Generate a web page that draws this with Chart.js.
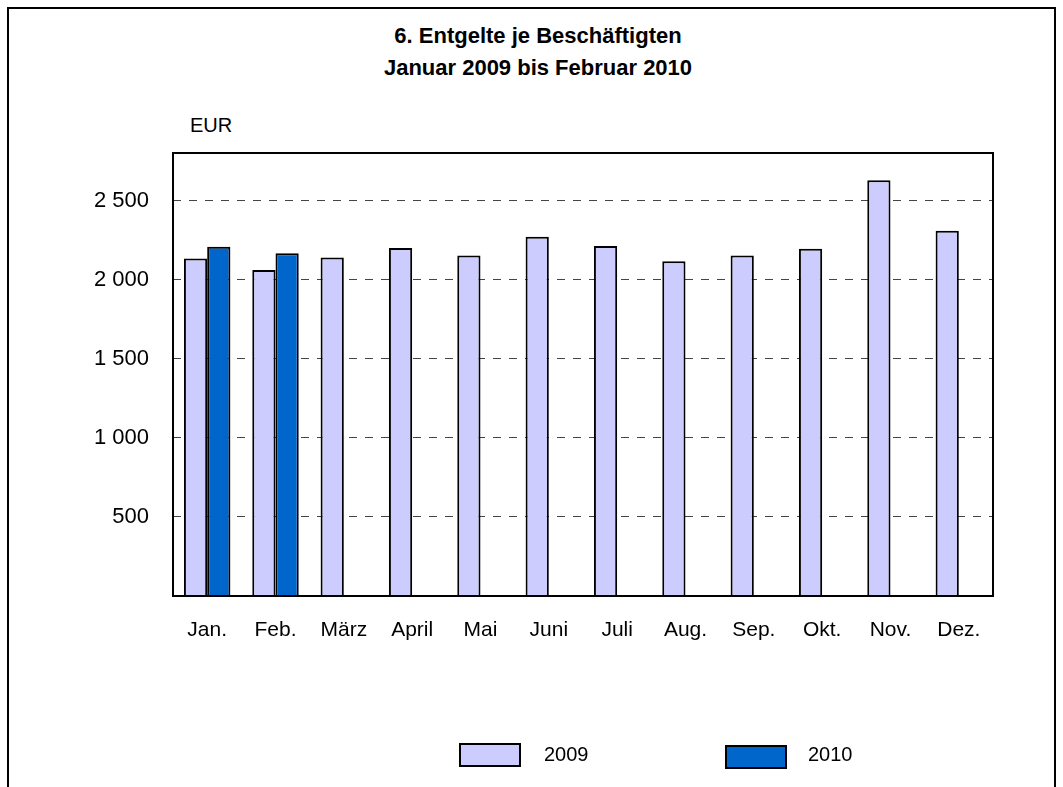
<!DOCTYPE html>
<html>
<head>
<meta charset="utf-8">
<script src="https://cdn.jsdelivr.net/npm/chart.js@4"></script>
<style>
    body { margin: 0; background: #fff; font-family: "Liberation Sans", Arial, sans-serif; }
    #wrap { position: relative; width: 1063px; height: 787px; overflow: hidden; }
    #frame { position: absolute; left: 7px; top: 7px; width: 1049px; height: 800px; border: 2px solid #000; box-sizing: border-box; }
    #titel { position: absolute; left: 0; width: 1076px; top: 20px; text-align: center; font-weight: bold; font-size: 22px; line-height: 32px; color: #000; }
    #einheit { position: absolute; left: 190px; top: 115px; font-size: 20px; line-height: 20px; color: #000; }
    .leg-box { position: absolute; width: 62px; height: 24px; border: 2px solid #000; box-sizing: border-box; }
    .leg-txt { position: absolute; font-size: 20px; line-height: 20px; color: #000; }
    canvas { position: absolute; left: 0; top: 0; }
</style>
</head>
<body>
<div id="wrap">
    <div id="frame"></div>
    <div id="titel">6. Entgelte je Beschäftigten<br>Januar 2009 bis Februar 2010</div>
    <div id="einheit">EUR</div>
    <canvas id="myChart" width="1063" height="787"></canvas>
    <div class="leg-box" style="left:459px; top:743px; background:#CCCCFF;"></div>
    <div class="leg-txt" style="left:544px; top:744px;">2009</div>
    <div class="leg-box" style="left:725px; top:745px; background:#0066CC;"></div>
    <div class="leg-txt" style="left:808px; top:744px;">2010</div>
</div>
<script>
// Monate (Kategorien)
const monate = ['Jan.', 'Feb.', 'März', 'April', 'Mai', 'Juni', 'Juli', 'Aug.', 'Sep.', 'Okt.', 'Nov.', 'Dez.'];
// Entgelte je Beschäftigten in EUR
const werte2009 = [2133, 2061, 2140, 2199, 2152, 2271, 2212, 2116, 2152, 2195, 2627, 2309];
const werte2010 = [2207, 2167, null, null, null, null, null, null, null, null, null, null];
// Achse
const yMax = 2800;
const yTicks = [500, 1000, 1500, 2000, 2500];

// Rahmen um die Zeichenfläche
const rahmenPlugin = {
    id: 'rahmen',
    afterDatasetsDraw(chart) {
        const a = chart.chartArea;
        const ctx = chart.ctx;
        ctx.save();
        ctx.strokeStyle = '#000';
        ctx.lineWidth = 2;
        ctx.strokeRect(a.left, a.top, a.right - a.left, a.bottom - a.top);
        ctx.restore();
    }
};

function tausender(v) {
    return String(v).replace(/\B(?=(\d{3})+(?!\d))/g, ' ');
}

const ctx = document.getElementById('myChart').getContext('2d');
const myChart = new Chart(ctx, {
    type: 'bar',
    data: {
        labels: monate,
        datasets: [{
            label: '2009',
            data: werte2009,
            backgroundColor: '#CCCCFF',
            borderColor: '#000',
            borderWidth: 2
        }, {
            label: '2010',
            data: werte2010,
            backgroundColor: '#0066CC',
            borderColor: '#000',
            borderWidth: 2
        }]
    },
    options: {
        responsive: false,
        animation: false,
        layout: {
            padding: { left: 0, right: 70, top: 153, bottom: 131 }
        },
        datasets: {
            bar: { categoryPercentage: 0.68, barPercentage: 1.0 }
        },
        plugins: {
            legend: { display: false },
            title: { display: false },
            tooltip: { enabled: false }
        },
        scales: {
            x: {
                grid: { display: false, drawTicks: false },
                border: { display: false },
                ticks: {
                    color: '#000',
                    padding: 22,
                    font: { family: 'Liberation Sans', size: 21 }
                },
                afterFit(scale) { scale.height = 60; }
            },
            y: {
                min: 0,
                max: yMax,
                grid: {
                    drawTicks: false,
                    lineWidth: 1,
                    color: '#444'
                },
                border: { display: false, dash: [8, 8] },
                afterBuildTicks(scale) {
                    scale.ticks = yTicks.map(v => ({ value: v }));
                },
                ticks: {
                    color: '#000',
                    padding: 24,
                    font: { family: 'Liberation Sans', size: 22 },
                    callback(v) {
                        return tausender(v);
                    }
                },
                afterFit(scale) { scale.width = 173; }
            }
        }
    },
    plugins: [rahmenPlugin]
});
</script>
</body>
</html>
